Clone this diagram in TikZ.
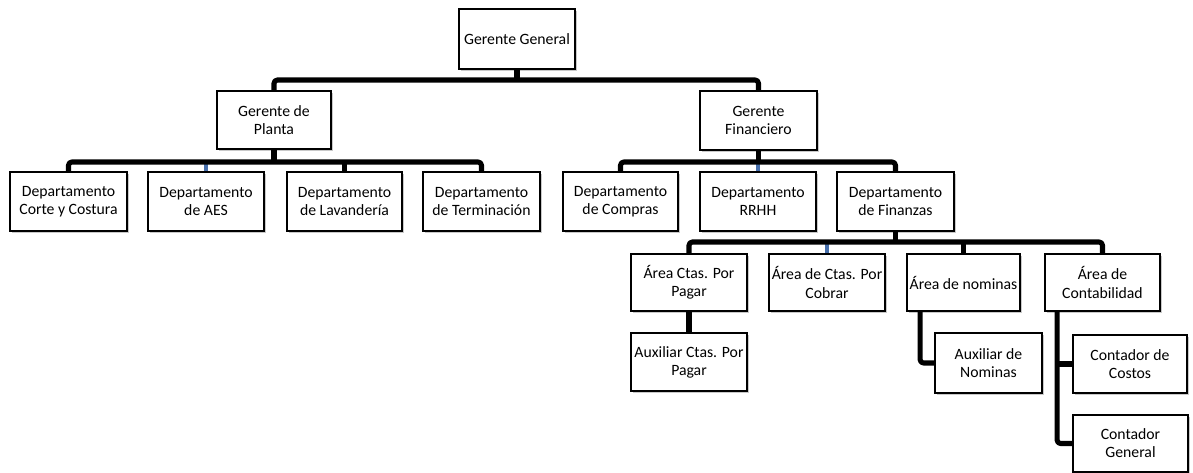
\documentclass[tikz,border=0pt]{standalone}
\usepackage{fontspec}
\setmainfont{Carlito}
\usetikzlibrary{shadows,calc}
\definecolor{stubblue}{RGB}{70,110,170}
\tikzset{
  box/.style 2 args={draw=black, line width=1.3pt, fill=white, align=center,
    inner sep=0pt, minimum width=#1*0.75pt, minimum height=#2*0.75pt,
    font=\fontsize{11.8}{13.6}\selectfont,
    drop shadow={shadow xshift=1.6pt, shadow yshift=-1.6pt, opacity=0.3, fill=black!70}},
  conn/.style={line width=3.8pt, black, rounded corners=2.5pt, line cap=butt, line join=round},
  bluestub/.style={line width=3pt, stubblue}
}
\begin{document}
\begin{tikzpicture}[x=0.75pt,y=-0.75pt]
\useasboundingbox (0,0) rectangle (1193,473);
% level 1
\node[box={116}{60}] (gg) at (517,39) {Gerente General};
% level 2
\node[box={114}{58}] (gp) at (274,120) {Gerente de\\Planta};
\node[box={117}{59}] (gf) at (758.5,120.5) {Gerente\\Financiero};
% level 3
\node[box={117}{59}] (d1) at (68.5,201.5) {Departamento\\Corte y Costura};
\node[box={116}{59}] (d2) at (206,201.5) {Departamento\\de AES};
\node[box={115}{59}] (d3) at (344.5,201.5) {Departamento\\de Lavandería};
\node[box={117}{59}] (d4) at (481.5,201.5) {Departamento\\de Terminación};
\node[box={115}{59}] (d5) at (620.5,201.5) {Departamento\\de Compras};
\node[box={116}{59}] (d6) at (758,201.5) {Departamento\\RRHH};
\node[box={117}{59}] (d7) at (895.5,201.5) {Departamento\\de Finanzas};
% level 4
\node[box={116}{57}] (a1) at (689,282.5) {Área Ctas. Por\\Pagar};
\node[box={116}{57}] (a2) at (827,282.5) {Área de Ctas. Por\\Cobrar};
\node[box={113}{57}] (a3) at (963.5,282.5) {Área de nominas};
\node[box={115}{57}] (a4) at (1102.5,282.5) {Área de\\Contabilidad};
% level 5
\node[box={116}{58}] (b1) at (689,362) {Auxiliar Ctas. Por\\Pagar};
\node[box={107}{60}] (b2) at (988.5,363) {Auxiliar de\\Nominas};
\node[box={114}{58}] (b3) at (1130,364) {Contador de\\Costos};
\node[box={115}{57}] (b4) at (1130.5,443.5) {Contador\\General};

% blue stubs
\draw[bluestub] (d2.north) -- ++(0,-10);
\draw[bluestub] (d6.north) -- ++(0,-10);
\draw[bluestub] (a2.north) -- ++(0,-10);

% bus level 1
\draw[conn] (gg.south) -- (gg.south |- 0,80);
\draw[conn] (gp.north) -- (gp.north |- 0,80) -- (gf.north |- 0,80) -- (gf.north);
% bus level 2 left
\draw[conn] (gp.south) -- (gp.south |- 0,162);
\draw[conn] (d1.north) -- (d1.north |- 0,162) -- (d4.north |- 0,162) -- (d4.north);
\draw[conn] (d3.north) -- (d3.north |- 0,162);
% bus level 2 right
\draw[conn] (gf.south) -- (gf.south |- 0,162);
\draw[conn] (d5.north) -- (d5.north |- 0,162) -- (d7.north |- 0,162) -- (d7.north);
% bus level 3
\draw[conn] (d7.south) -- (d7.south |- 0,242);
\draw[conn] (a1.north) -- (a1.north |- 0,242) -- (a4.north |- 0,242) -- (a4.north);
\draw[conn] (a3.north) -- (a3.north |- 0,242);
% level 4 children
\draw[conn] (a1.south) -- (b1.north);
\coordinate (a3s) at ($(a3.south west)+(14,0)$);
\draw[conn] (a3s) |- (b2.west);
\coordinate (a4s) at ($(a4.south west)+(13,0)$);
\draw[conn] (a4s) |- (b4.west);
\draw[conn] (a4s |- b3.west) -- (b3.west);
\end{tikzpicture}
\end{document}
